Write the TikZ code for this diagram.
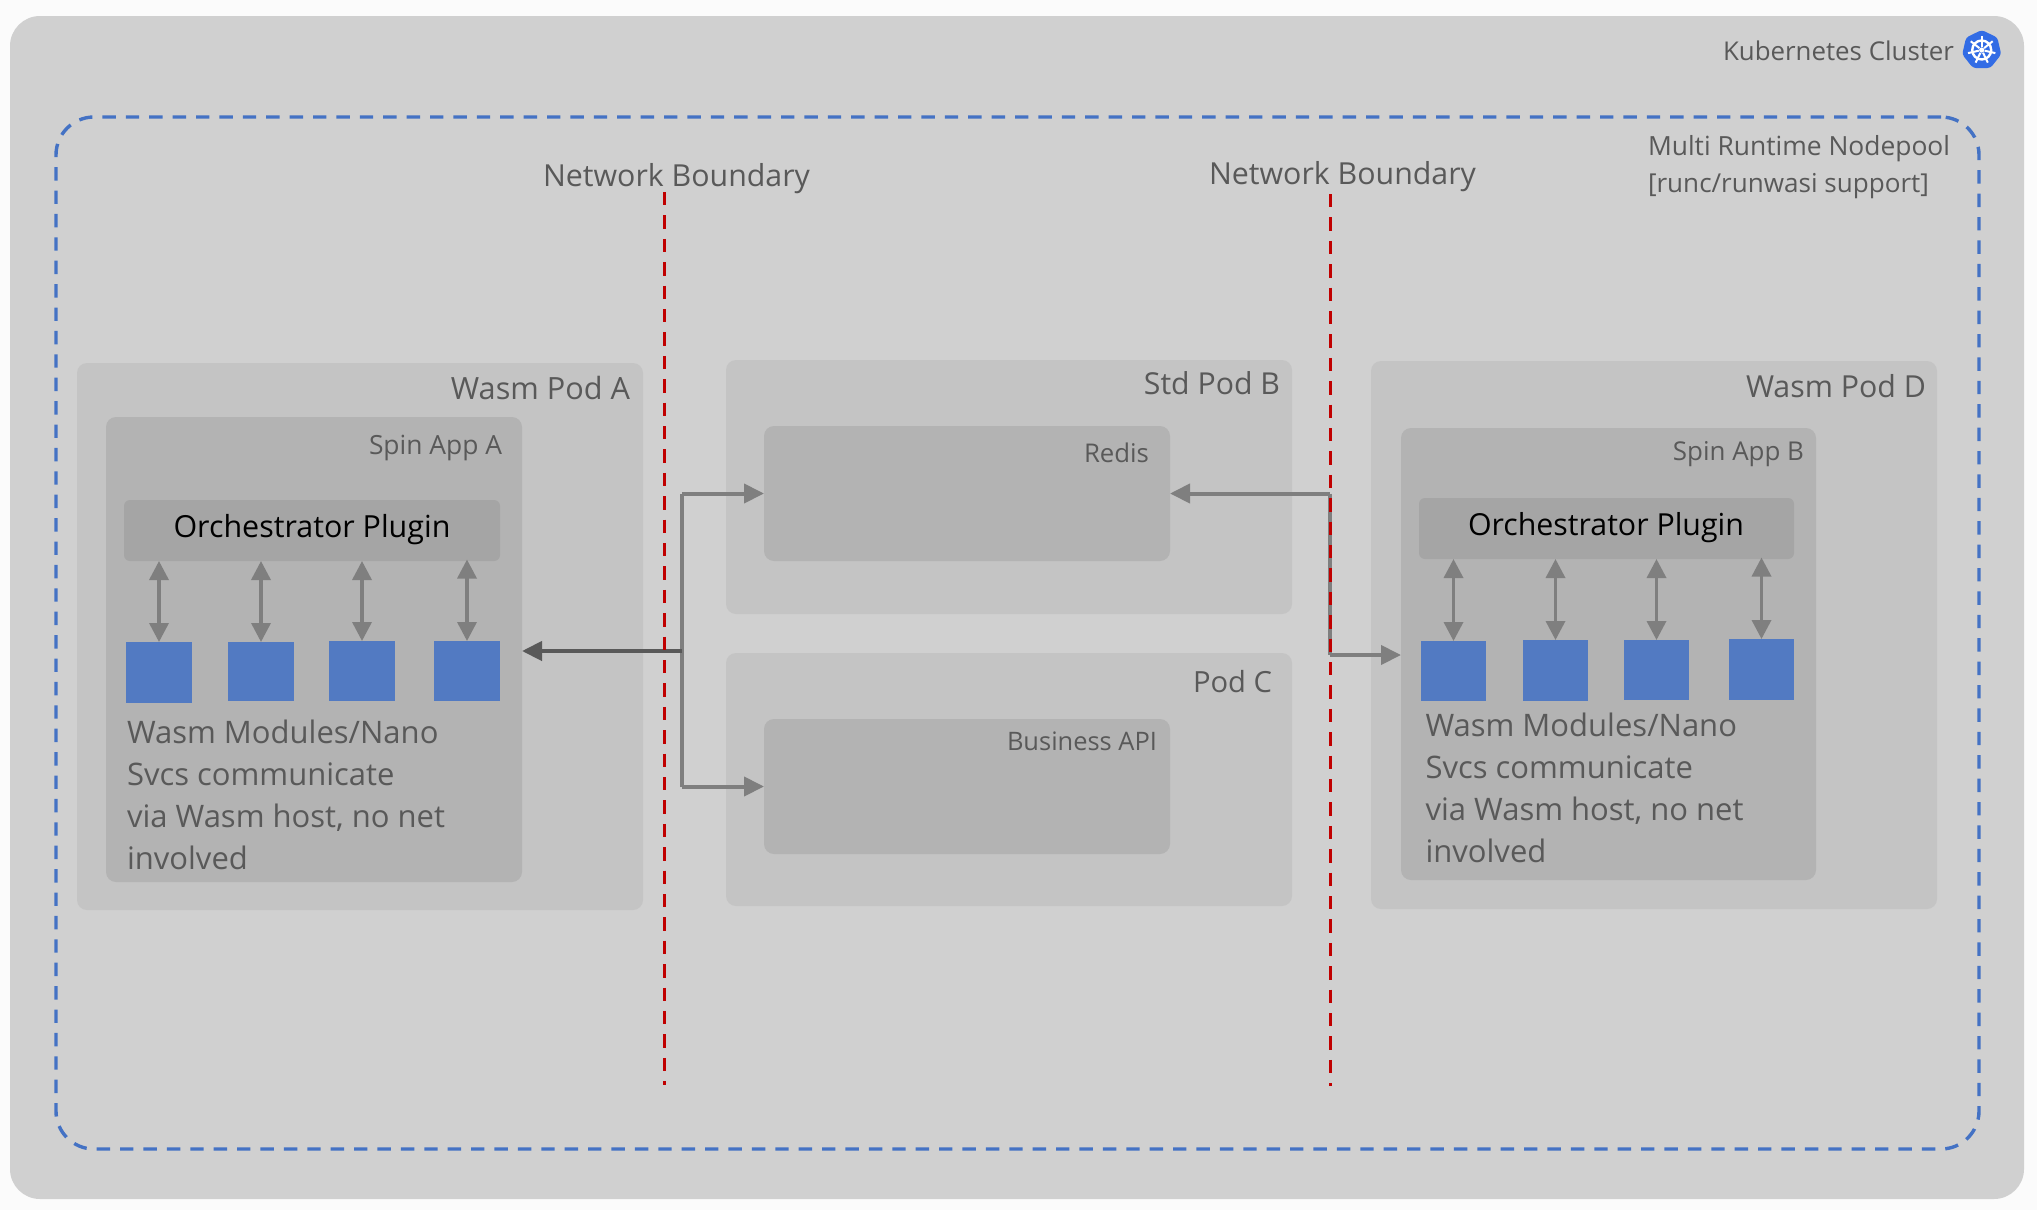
\documentclass[tikz,border=0pt]{standalone}
\usepackage{fontspec}
\usepackage{graphicx}
\setmainfont{Open Sans}
\usetikzlibrary{arrows.meta,shapes.geometric}
\definecolor{pagebg}{HTML}{FBFBFB}
\definecolor{clusterfill}{HTML}{D0D0D0}
\definecolor{podfill}{HTML}{C4C4C4}
\definecolor{innerfill}{HTML}{B3B3B3}
\definecolor{orchfill}{HTML}{A5A5A5}
\definecolor{modfill}{HTML}{527AC2}
\definecolor{poolblue}{HTML}{4472C4}
\definecolor{netred}{HTML}{C00000}
\definecolor{labelgrey}{HTML}{595959}
\definecolor{arrowgrey}{HTML}{7F7F7F}
\definecolor{k8sblue}{HTML}{326CE5}
\newcommand{\fitw}[2]{\resizebox{#1pt}{!}{#2}}
\tikzset{
  areabox/.style={anchor=north west,inner sep=0pt,outer sep=0pt},
  clusterbox/.style={areabox,fill=clusterfill,rounded corners=30pt},
  poolbox/.style={areabox,draw=poolblue,line width=3.4pt,rounded corners=38pt,dash pattern=on 13.4pt off 10pt},
  podbox/.style={areabox,fill=podfill,rounded corners=10pt},
  innerbox/.style={areabox,fill=innerfill,rounded corners=10pt},
  orchbox/.style={areabox,fill=orchfill,rounded corners=6pt},
  modbox/.style={areabox,fill=modfill},
  lbl/.style={inner sep=0pt,outer sep=0pt,text=labelgrey},
  lblR/.style={lbl,anchor=base east},
  lblL/.style={lbl,anchor=base west},
  para/.style={lbl,anchor=north west,align=left,font=\fontsize{31}{42}\selectfont},
  biarrow/.style={{Triangle[length=19pt,width=19pt]}-{Triangle[length=19pt,width=19pt]},draw=arrowgrey,line width=3.5pt},
  conn/.style={-{Triangle[length=20pt,width=19pt]},draw=arrowgrey,line width=4pt},
  connmain/.style={-{Triangle[length=20pt,width=19pt]},draw=labelgrey,line width=4.2pt},
  spine/.style={draw=arrowgrey,line width=4pt},
  netline/.style={draw=netred,line width=3pt,dash pattern=on 13.4pt off 10pt},
}
\begin{document}
\begin{tikzpicture}[x=1pt,y=-1pt]
\fill[pagebg] (0,0) rectangle (2037,1210);
\useasboundingbox (0,0) rectangle (2037,1210);

\node[clusterbox,minimum width=2014pt,minimum height=1183pt] (cluster) at (10,16) {};
\node[poolbox,minimum width=1923pt,minimum height=1032pt] (pool) at (56,117) {};

% pods
\node[podbox,minimum width=566pt,minimum height=547pt] (podA) at (77,363) {};
\node[podbox,minimum width=566pt,minimum height=254pt] (podB) at (726,360) {};
\node[podbox,minimum width=566pt,minimum height=253pt] (podC) at (726,653) {};
\node[podbox,minimum width=566pt,minimum height=548pt] (podD) at (1371,361) {};

% inner boxes
\node[innerbox,minimum width=416pt,minimum height=465pt] (spinA) at (106,417) {};
\node[innerbox,minimum width=415pt,minimum height=452pt] (spinB) at (1401,428) {};
\node[innerbox,minimum width=406pt,minimum height=135pt] (redis) at (764,426) {};
\node[innerbox,minimum width=406pt,minimum height=135pt] (biz) at (764,719) {};

% orchestrators
\node[orchbox,minimum width=376pt,minimum height=61pt] (orchA) at (124,500) {};
\node[orchbox,minimum width=375pt,minimum height=61pt] (orchB) at (1419,498) {};

% modules
\node[modbox,minimum width=66pt,minimum height=61pt] (mA1) at (126,642) {};
\node[modbox,minimum width=66pt,minimum height=59pt] (mA2) at (228,642) {};
\node[modbox,minimum width=66pt,minimum height=60pt] (mA3) at (329,641) {};
\node[modbox,minimum width=66pt,minimum height=60pt] (mA4) at (434,641) {};
\node[modbox,minimum width=65pt,minimum height=60pt] (mB1) at (1421,641) {};
\node[modbox,minimum width=65pt,minimum height=61pt] (mB2) at (1523,640) {};
\node[modbox,minimum width=65pt,minimum height=60pt] (mB3) at (1624,640) {};
\node[modbox,minimum width=65pt,minimum height=61pt] (mB4) at (1729,639) {};

% module arrows
\foreach \m in {mA1,mA2,mA3} \draw[biarrow] (\m.north) -- (\m.north |- orchA.south);
\draw[biarrow] (mA4.north) -- ([yshift=1.5pt]mA4.north |- orchA.south);
\foreach \m in {mB1,mB2,mB3} \draw[biarrow] (\m.north) -- (\m.north |- orchB.south);
\draw[biarrow] (mB4.north) -- ([yshift=1.5pt]mB4.north |- orchB.south);

% connectors
\coordinate (busA) at (682,651);
\coordinate (busB) at (1330,655);
\draw[spine] (busA |- redis.west) -- (busA |- biz.west);
\draw[conn] (busA |- redis.west) -- (redis.west);
\draw[conn] (busA |- biz.west) -- (biz.west);
\draw[connmain] (busA) -- (spinA.east |- busA);
\draw[spine] (busB |- redis.east) -- (busB);
\draw[conn] (busB |- redis.east) -- (redis.east);
\draw[conn] (busB) -- (spinB.west |- busB);

% network boundaries
\coordinate (net1a) at (664.3,192);
\coordinate (net1b) at (664.3,1085);
\coordinate (net2a) at (1330.3,194);
\coordinate (net2b) at (1330.3,1086);
\draw[netline] (net1a) -- (net1b);
\draw[netline] (net2a) -- (net2b);

% labels
\node[lblL] (tK) at (1723,60) {\fitw{231}{Kubernetes Cluster}};
\node[lblL] (tM1) at (1648,155) {\fitw{302}{Multi Runtime Nodepool}};
\node[lblL] (tM2) at (1648,192) {\fitw{281}{[runc/runwasi support]}};
\node[lblL] (tN1) at (543,186) {\fitw{267}{Network Boundary}};
\node[lblL] (tN2) at (1209,184) {\fitw{267}{Network Boundary}};
\node[lblR] (tPA) at (630,399) {\fitw{179}{Wasm Pod A}};
\node[lblR] (tPB) at (1280,394) {\fitw{136}{Std Pod B}};
\node[lblR] (tPC) at (1272,692) {\fitw{79}{Pod C}};
\node[lblR] (tPD) at (1926,397) {\fitw{180}{Wasm Pod D}};
\node[lblR] (tSA) at (502,454) {\fitw{133}{Spin App A}};
\node[lblR] (tSB) at (1804,460) {\fitw{131}{Spin App B}};
\node[lblR] (tR) at (1149,462) {\fitw{65}{Redis}};
\node[lblR] (tB) at (1157,750) {\fitw{150}{Business API}};
\node[lblL,text=black] (tOA) at (173.5,537) {\fitw{277}{Orchestrator Plugin}};
\node[lblL,text=black] (tOB) at (1468,535) {\fitw{276}{Orchestrator Plugin}};
\node[para] (tTA) at (127,720) {Wasm Modules/Nano\\Svcs communicate\\via Wasm host, no net\\involved};
\node[para] (tTB) at (1425.5,713) {Wasm Modules/Nano\\Svcs communicate\\via Wasm host, no net\\involved};

% Kubernetes icon
\node[regular polygon,regular polygon sides=7,minimum size=40pt,inner sep=0pt,outer sep=0pt,fill=k8sblue,rounded corners=3pt] (k8s) at (1981.7,50) {};
\begin{scope}[shift={(k8s.center)},draw=white,line width=2.4pt]
  \draw (0,0) circle[radius=9.5pt];
  \fill[white] (0,0) circle[radius=2.6pt];
  \foreach \i in {0,...,6} {
    \draw[line width=2pt] (-90+\i*51.43:3) -- (-90+\i*51.43:14);
  }
\end{scope}
\end{tikzpicture}
\end{document}
